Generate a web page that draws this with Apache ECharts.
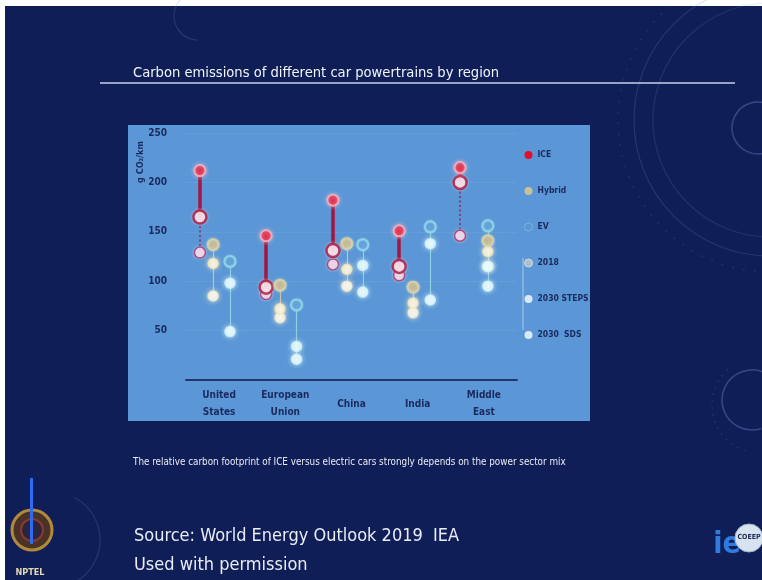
<!DOCTYPE html>
<html>
<head>
<meta charset="utf-8">
<script src="https://cdn.jsdelivr.net/npm/echarts/dist/echarts.min.js"></script>
<style>
  html, body { margin: 0; padding: 0; background: #101e58; }
  #chart { width: 762px; height: 580px; }
</style>
</head>
<body>
<div id="chart"></div>
<script>
// Regions on the category axis
const regions = ['United\nStates', 'European\nUnion', 'China', 'India', 'Middle\nEast'];

// Emissions, g CO2/km: 2018, 2030 Stated Policies, 2030 Sustainable Development
const ice2018      = [212, 146, 182, 151, 215];
const iceSteps     = [165,  94, 131, 115, 200];
const iceSds       = [129,  87, 117, 106, 146];
const hybrid2018   = [137,  96, 138,  94, 141];
const hybridSteps  = [118,  72, 112,  78, 130];
const hybridSds    = [ 85,  63,  95,  68, 115];
const ev2018       = [120,  76, 137, 155, 156];
const evSteps      = [ 98,  34, 116, 138, 115];
const evSds        = [ 49,  21,  89,  81,  95];

// Horizontal slot of each powertrain column inside its region band (axis units, band i spans i..i+1)
const slotX = {
  ICE:    [0.21, 1.21, 2.22, 3.22, 4.14],
  Hybrid: [0.41, 1.42, 2.43, 3.43, 4.56],
  EV:     [0.665, 1.67, 2.67, 3.69, 4.56]
};

const FONT_N = '"Liberation Sans Narrow", "DejaVu Sans Condensed", "Open Sans", sans-serif';
const INK = '#1b2a5e';
const PANEL = '#5b97d6';
const ORNAMENT = 'rgba(110,140,210,0.22)';

const powertrains = [
  { key: 'ICE',    y2018: ice2018,    steps: iceSteps,    sds: iceSds },
  { key: 'Hybrid', y2018: hybrid2018, steps: hybridSteps, sds: hybridSds },
  { key: 'EV',     y2018: ev2018,     steps: evSteps,     sds: evSds }
];

// Marker looks: [2018, 2030 STEPS, 2030 SDS] per powertrain
const markerLook = {
  ICE: [
    { size: 11, style: { color: '#e2102d', borderColor: '#f5b6c4', borderWidth: 2, shadowBlur: 4, shadowColor: 'rgba(255,190,205,0.8)' } },
    { size: 13, style: { color: '#fde9ef', borderColor: '#a3143d', borderWidth: 2.5, shadowBlur: 3, shadowColor: 'rgba(255,200,215,0.7)' } },
    { size: 11, style: { color: '#f8dcea', borderColor: '#96336a', borderWidth: 1.5, shadowBlur: 3, shadowColor: 'rgba(255,210,230,0.7)' } }
  ],
  Hybrid: [
    { size: 11, style: { color: '#c4b88c', borderColor: '#dcd3ad', borderWidth: 2, shadowBlur: 3, shadowColor: 'rgba(240,230,190,0.7)' } },
    { size: 10, style: { color: '#fff8e4', borderColor: '#efe3b8', borderWidth: 1.5, shadowBlur: 5, shadowColor: 'rgba(255,240,200,0.9)' } },
    { size: 10, style: { color: '#fffcf2', borderColor: '#f3ead0', borderWidth: 1.5, shadowBlur: 5, shadowColor: 'rgba(255,245,215,0.9)' } }
  ],
  EV: [
    { size: 11, style: { color: PANEL, borderColor: '#8fdae6', borderWidth: 2, shadowBlur: 2, shadowColor: 'rgba(180,240,250,0.6)' } },
    { size: 10, style: { color: '#effdff', borderColor: '#cdf2f8', borderWidth: 1.5, shadowBlur: 5, shadowColor: 'rgba(220,250,255,0.9)' } },
    { size: 10, style: { color: '#f3feff', borderColor: '#d3f4f9', borderWidth: 1.5, shadowBlur: 5, shadowColor: 'rgba(220,250,255,0.9)' } }
  ]
};

function scenarioPoints(field, lookIndex) {
  const out = [];
  powertrains.forEach(p => {
    p[field].forEach((v, i) => {
      const look = markerLook[p.key][lookIndex];
      out.push({ value: [slotX[p.key][i], v], symbolSize: look.size, itemStyle: look.style });
    });
  });
  return out;
}

function segments(key, from, to) {
  return from.map((v, i) => ({ coords: [[slotX[key][i], v], [slotX[key][i], to[i]]] }));
}

const chart = echarts.init(document.getElementById('chart'), null, { renderer: 'canvas' });

const option = {
  backgroundColor: '#101e58',
  animation: false,
  title: [
    {
      text: 'Carbon emissions of different car powertrains by region',
      left: 133, top: 64, padding: 0,
      textStyle: { color: '#f2f4fa', fontSize: 14.6, lineHeight: 18, fontWeight: 'normal', fontFamily: FONT_N }
    },
    {
      text: 'The relative carbon footprint of ICE versus electric cars strongly depends on the power sector mix',
      left: 133, top: 456, padding: 0,
      textStyle: { color: '#e8ebf3', fontSize: 9.8, lineHeight: 12, fontWeight: 'normal', fontFamily: FONT_N }
    },
    {
      text: 'Source: World Energy Outlook 2019  IEA\nUsed with permission',
      left: 134, top: 522, padding: 0,
      textStyle: { color: '#e9ecf4', fontSize: 18, lineHeight: 29, fontWeight: 'normal', fontFamily: FONT_N }
    }
  ],
  grid: { left: 186, right: 245, top: 133, bottom: 200 },
  xAxis: [
    {
      type: 'category', data: regions, boundaryGap: true,
      axisLine: { lineStyle: { color: '#22366c', width: 2 } },
      axisTick: { show: false },
      splitLine: { show: false },
      axisLabel: {
        interval: 0, color: INK, fontSize: 10, fontWeight: 'bold', fontFamily: FONT_N,
        lineHeight: 17, margin: 24, verticalAlign: 'middle'
      }
    },
    { type: 'value', min: 0, max: 5, show: false }
  ],
  yAxis: {
    type: 'value', min: 0, max: 250, interval: 50,
    axisLine: { show: false }, axisTick: { show: false },
    splitLine: { show: true, lineStyle: { color: 'rgba(255,255,255,0.06)', width: 1 } },
    axisLabel: { showMinLabel: false, color: INK, fontSize: 10, fontWeight: 'bold', fontFamily: FONT_N, margin: 19 }
  },
  legend: {
    orient: 'vertical', left: 519, top: 144,
    itemWidth: 8, itemHeight: 8, itemGap: 24, selectedMode: false,
    textStyle: { color: INK, fontSize: 8.5, fontWeight: 'bold', fontFamily: FONT_N, lineHeight: 12 },
    formatter: n => (n === '2030 SDS' ? '2030  SDS' : n),
    data: [
      { name: 'ICE', icon: 'circle', itemStyle: { color: '#e2102d', borderWidth: 0 } },
      { name: 'Hybrid', icon: 'circle', itemStyle: { color: '#cbc196', borderWidth: 0 } },
      { name: 'EV', icon: 'circle', itemStyle: { color: 'rgba(0,0,0,0)', borderColor: 'rgba(175,230,240,0.35)', borderWidth: 1 } },
      { name: '2018', icon: 'circle', itemStyle: { color: '#c6c9ce', borderColor: '#dfe2e6', borderWidth: 1 } },
      { name: '2030 STEPS', icon: 'circle', itemStyle: { color: '#fbfdff', borderWidth: 0 } },
      { name: '2030 SDS', icon: 'circle', itemStyle: { color: '#fbfdff', borderWidth: 0 } }
    ]
  },
  series: [
    {
      type: 'lines', name: 'ICE', coordinateSystem: 'cartesian2d', xAxisIndex: 1, yAxisIndex: 0,
      silent: true, z: 2,
      lineStyle: { color: '#a3163f', width: 3.5, opacity: 1, curveness: 0 },
      data: segments('ICE', ice2018, iceSteps)
    },
    {
      type: 'lines', name: 'ICE', coordinateSystem: 'cartesian2d', xAxisIndex: 1, yAxisIndex: 0,
      silent: true, z: 2,
      lineStyle: { color: '#8d2d63', width: 1.6, opacity: 1, type: [2, 2.5], curveness: 0 },
      data: segments('ICE', iceSteps, iceSds)
    },
    {
      type: 'lines', name: 'Hybrid', coordinateSystem: 'cartesian2d', xAxisIndex: 1, yAxisIndex: 0,
      silent: true, z: 2,
      lineStyle: { color: '#d6cc9f', width: 1.2, opacity: 0.85, curveness: 0 },
      data: segments('Hybrid', hybrid2018, hybridSds)
    },
    {
      type: 'lines', name: 'EV', coordinateSystem: 'cartesian2d', xAxisIndex: 1, yAxisIndex: 0,
      silent: true, z: 2,
      lineStyle: { color: '#95dbe6', width: 1.2, opacity: 0.85, curveness: 0 },
      data: segments('EV', ev2018, evSds)
    },
    {
      type: 'scatter', name: '2030 SDS', xAxisIndex: 1, yAxisIndex: 0, z: 3,
      data: scenarioPoints('sds', 2)
    },
    {
      type: 'scatter', name: '2030 STEPS', xAxisIndex: 1, yAxisIndex: 0, z: 4,
      data: scenarioPoints('steps', 1)
    },
    {
      type: 'scatter', name: '2018', xAxisIndex: 1, yAxisIndex: 0, z: 5,
      data: scenarioPoints('y2018', 0)
    }
  ],
  graphic: [
    // slide frame edges
    { type: 'rect', shape: { x: 0, y: 0, width: 762, height: 6 }, style: { fill: '#ffffff' }, z: -20 },
    { type: 'rect', shape: { x: 0, y: 0, width: 5, height: 580 }, style: { fill: '#ffffff' }, z: -20 },
    // background ornaments
    { type: 'arc', shape: { cx: 198, cy: 16, r: 24, startAngle: Math.PI / 2, endAngle: Math.PI * 1.5 }, style: { stroke: ORNAMENT, lineWidth: 1.2, fill: null }, z: -15 },
    { type: 'circle', shape: { cx: 770, cy: 120, r: 136 }, style: { stroke: ORNAMENT, lineWidth: 1.2, fill: null }, z: -15 },
    { type: 'circle', shape: { cx: 770, cy: 120, r: 117 }, style: { stroke: 'rgba(110,140,210,0.18)', lineWidth: 1.2, fill: null }, z: -15 },
    { type: 'circle', shape: { cx: 770, cy: 120, r: 152 }, style: { stroke: 'rgba(110,140,210,0.16)', lineWidth: 1.5, lineDash: [2, 9], fill: null }, z: -15 },
    { type: 'arc', shape: { cx: 758, cy: 128, r: 26, startAngle: Math.PI * 0.4, endAngle: Math.PI * 1.6 }, style: { stroke: 'rgba(120,150,220,0.35)', lineWidth: 1.5, fill: null }, z: -15 },
    { type: 'arc', shape: { cx: 752, cy: 400, r: 30, startAngle: Math.PI * 0.4, endAngle: Math.PI * 1.7 }, style: { stroke: 'rgba(120,150,220,0.35)', lineWidth: 1.5, fill: null }, z: -15 },
    { type: 'arc', shape: { cx: 760, cy: 405, r: 48, startAngle: Math.PI * 0.6, endAngle: Math.PI * 1.3 }, style: { stroke: 'rgba(110,140,210,0.2)', lineWidth: 1.2, lineDash: [2, 5], fill: null }, z: -15 },
    { type: 'arc', shape: { cx: 52, cy: 540, r: 48, startAngle: -Math.PI * 0.35, endAngle: Math.PI * 0.35 }, style: { stroke: ORNAMENT, lineWidth: 1.2, fill: null }, z: -15 },
    // title rule
    { type: 'line', shape: { x1: 100, y1: 83, x2: 735, y2: 83 }, style: { stroke: '#c8cfe6', lineWidth: 1.5 }, z: -5 },
    // chart panel
    { type: 'rect', shape: { x: 128, y: 125, width: 462, height: 296 }, style: { fill: PANEL }, z: -10 },
    // y-axis unit
    {
      type: 'text', x: 141, y: 162, rotation: Math.PI / 2, z: 5,
      style: { text: 'g CO₂/km', fill: INK, fontSize: 9, fontWeight: 'bold', fontFamily: FONT_N, align: 'center', verticalAlign: 'middle' }
    },
    // legend connector between scenario markers
    { type: 'line', shape: { x1: 523, y1: 258, x2: 523, y2: 330 }, style: { stroke: 'rgba(235,240,250,0.55)', lineWidth: 1 }, z: 1 },
    // NPTEL emblem
    { type: 'circle', shape: { cx: 32, cy: 530, r: 20 }, style: { fill: '#4a3326', stroke: '#b08a3a', lineWidth: 3 }, z: -4 },
    { type: 'circle', shape: { cx: 32, cy: 530, r: 11 }, style: { fill: '#2a2440', stroke: '#8a3a2c', lineWidth: 2 }, z: -3 },
    { type: 'rect', shape: { x: 30, y: 478, width: 3, height: 66 }, style: { fill: '#2d6cf2' }, z: -2 },
    {
      type: 'text', x: 30, y: 573, z: -2,
      style: { text: 'NPTEL', fill: '#e2d9b4', fontSize: 9, fontWeight: 'bold', fontFamily: FONT_N, align: 'center', verticalAlign: 'middle' }
    },
    // IE / COEEP badge
    {
      type: 'text', x: 727, y: 545, z: -2,
      style: { text: 'ie', fill: '#2f7be0', fontSize: 30, fontWeight: 'bold', fontFamily: FONT_N, align: 'center', verticalAlign: 'middle' }
    },
    { type: 'circle', shape: { cx: 749, cy: 538, r: 14 }, style: { fill: '#d7e3ef', stroke: '#9fb6cc', lineWidth: 1 }, z: -2 },
    {
      type: 'text', x: 749, y: 537, z: -1,
      style: { text: 'COEEP', fill: '#1c2a55', fontSize: 7, fontWeight: 'bold', fontFamily: FONT_N, align: 'center', verticalAlign: 'middle' }
    }
  ]
};

chart.setOption(option);
</script>
</body>
</html>
